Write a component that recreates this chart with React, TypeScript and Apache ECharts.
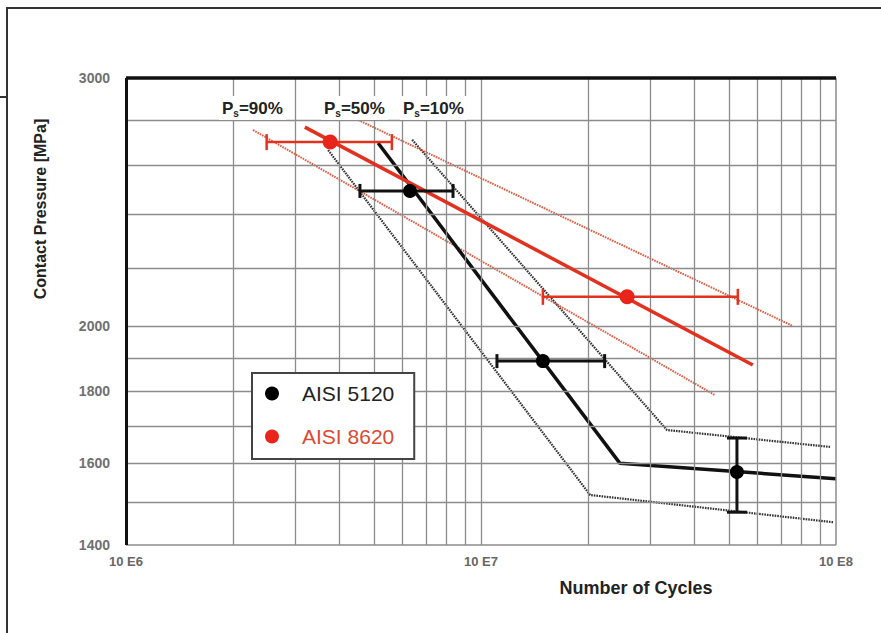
import React, { useEffect, useRef } from 'react';
import * as echarts from 'echarts';

// ---- Data ----
const xTickValues = [1e6, 1e7, 1e8];
const yTickValues = [1400, 1600, 1800, 2000, 3000];
const xGridValues = [2e6, 3e6, 4e6, 5e6, 6e6, 7e6, 8e6, 9e6, 1e7, 2e7, 3e7, 4e7, 5e7, 6e7, 7e7, 8e7, 9e7];
const yGridValues = [1500, 1600, 1700, 1800, 1900, 2000, 2200, 2400, 2600, 2800];

// AISI 5120 (black)
const aisi5120Mean = [[5.13e6, 2698], [2.46e7, 1600], [1e8, 1560]];
const aisi5120P10 = [[6.4e6, 2712], [3.34e7, 1689], [9.62e7, 1643]];
const aisi5120P90 = [[3.71e6, 2667], [2.03e7, 1519], [9.82e7, 1453]];
const aisi5120Points = [[6.31e6, 2495], [1.494e7, 1890], [5.26e7, 1577]];
const aisi5120CycleRange = [[6.31e6, 2495, 4.56e6, 8.34e6], [1.494e7, 1890, 1.109e7, 2.23e7]];
const aisi5120PressureRange = [[5.26e7, 1577, 1477, 1667]];

// AISI 8620 (red)
const aisi8620Mean = [[3.19e6, 2769], [5.83e7, 1878]];
const aisi8620P10 = [[4.51e6, 2801], [7.57e7, 2001]];
const aisi8620P90 = [[2.28e6, 2756], [4.56e7, 1788]];
const aisi8620Points = [[3.76e6, 2702], [2.58e7, 2099]];
const aisi8620CycleRange = [[3.76e6, 2702, 2.49e6, 5.61e6], [2.58e7, 2099, 1.494e7, 5.29e7]];

const FONT = "'Liberation Sans', Arial, sans-serif";
const BLACK = '#111111';
const RED = '#e2321f';
const RED_LIGHT = '#e25a40';

function hErrRender(color: string, width: number, cap: number) {
  return (params: any, api: any) => {
    const y = api.value(1);
    const l = api.coord([api.value(2), y]);
    const h = api.coord([api.value(3), y]);
    const style = { stroke: color, lineWidth: width, fill: 'none' };
    return {
      type: 'group',
      children: [
        { type: 'line', shape: { x1: l[0], y1: l[1], x2: h[0], y2: h[1] }, style },
        { type: 'line', shape: { x1: l[0], y1: l[1] - cap, x2: l[0], y2: l[1] + cap }, style },
        { type: 'line', shape: { x1: h[0], y1: h[1] - cap, x2: h[0], y2: h[1] + cap }, style },
      ],
    };
  };
}

function vErrRender(color: string, width: number, cap: number) {
  return (params: any, api: any) => {
    const x = api.value(0);
    const lo = api.coord([x, api.value(2)]);
    const hi = api.coord([x, api.value(3)]);
    const style = { stroke: color, lineWidth: width, fill: 'none' };
    return {
      type: 'group',
      children: [
        { type: 'line', shape: { x1: lo[0], y1: lo[1], x2: hi[0], y2: hi[1] }, style },
        { type: 'line', shape: { x1: lo[0] - cap, y1: lo[1], x2: lo[0] + cap, y2: lo[1] }, style },
        { type: 'line', shape: { x1: hi[0] - cap, y1: hi[1], x2: hi[0] + cap, y2: hi[1] }, style },
      ],
    };
  };
}

function psLabel(x: number, pct: string) {
  return {
    type: 'text',
    x,
    y: 108,
    z: 50,
    style: {
      text: `{p|P}{s|s}{p|=${pct}}`,
      verticalAlign: 'middle',
      backgroundColor: '#ffffff',
      padding: [2, 3, 2, 3],
      rich: {
        p: { fontSize: 17, fontWeight: 'bold', fontFamily: FONT, fill: '#222' },
        s: { fontSize: 10, fontWeight: 'bold', fontFamily: FONT, fill: '#222', padding: [10, 0, 0, 0] },
      },
    },
  };
}

export default function App() {
  const ref = useRef<HTMLDivElement>(null);
  useEffect(() => {
    if (!ref.current) return;
    const chart = echarts.init(ref.current, undefined, { renderer: 'svg' });
    const gridStyle = { color: '#8c8c8c', width: 1.3, type: 'solid' };
    const markData: any[] = [
      ...xGridValues.map((v) => ({ xAxis: v })),
      ...yGridValues.map((v) => ({ yAxis: v })),
      { xAxis: 1e8, lineStyle: { color: '#8c8c8c', width: 1.5 } },
      { yAxis: 1400, lineStyle: { color: '#8c8c8c', width: 1.5 } },
      { xAxis: 1e6, lineStyle: { color: '#111', width: 3 } },
      { yAxis: 3000, lineStyle: { color: '#111', width: 3.5 } },
    ];
    const dashBlack = { color: '#333333', width: 2.2, type: [1.6, 1] };
    const dashRed = { color: RED_LIGHT, width: 2, type: [1.6, 1] };
    chart.setOption({
      animation: false,
      backgroundColor: '#ffffff',
      grid: { left: 126, right: 45, top: 78, bottom: 88 },
      xAxis: {
        type: 'log',
        logBase: 10,
        min: 1e6,
        max: 1e8,
        axisLine: { show: false },
        axisTick: { show: false },
        splitLine: { show: false },
        minorSplitLine: { show: false },
        axisLabel: {
          customValues: xTickValues,
          margin: 10,
          fontSize: 13,
          fontFamily: FONT,
          fontWeight: 'bold',
          color: '#666',
          formatter: (v: number) => '10 E' + Math.round(Math.log10(v)),
        },
      },
      yAxis: {
        type: 'log',
        logBase: 10,
        min: 1400,
        max: 3000,
        axisLine: { show: false },
        axisTick: { show: false },
        splitLine: { show: false },
        axisLabel: {
          customValues: yTickValues,
          margin: 16,
          fontSize: 14,
          fontFamily: FONT,
          fontWeight: 'bold',
          color: '#707070',
          formatter: (v: number) => String(Math.round(v)),
        },
      },
      legend: {
        orient: 'vertical',
        left: 252,
        top: 373,
        padding: [10, 20, 12, 13],
        itemGap: 22,
        itemWidth: 14,
        itemHeight: 14,
        icon: 'circle',
        backgroundColor: '#ffffff',
        borderColor: '#444',
        borderWidth: 2,
        borderRadius: 0,
        z: 40,
        data: [
          { name: 'AISI 5120', textStyle: { color: '#222' } },
          { name: 'AISI 8620', textStyle: { color: '#d94a32' } },
        ],
        textStyle: { fontSize: 21, fontFamily: FONT, padding: [0, 0, 0, 18] },
      },
      graphic: [
        { type: 'rect', shape: { x: 7, y: 8, width: 900, height: 700 }, style: { fill: 'none', stroke: '#333', lineWidth: 2 }, silent: true },
        { type: 'line', shape: { x1: 0, y1: 97, x2: 7, y2: 97 }, style: { stroke: '#333', lineWidth: 2 } },
        {
          type: 'text',
          x: 40,
          y: 209,
          rotation: Math.PI / 2,
          style: { text: 'Contact Pressure [MPa]', fontSize: 16, fontWeight: 'bold', fontFamily: FONT, fill: '#222', align: 'center', verticalAlign: 'middle' },
        },
        {
          type: 'text',
          x: 636,
          y: 588,
          style: { text: 'Number of Cycles', fontSize: 18, fontWeight: 'bold', fontFamily: FONT, fill: '#222', align: 'center', verticalAlign: 'middle' },
        },
        psLabel(219, '90%'),
        psLabel(321, '50%'),
        psLabel(400, '10%'),
      ],
      series: [
        {
          type: 'line',
          name: 'grid',
          data: [[1e6, 1400]],
          symbol: 'none',
          lineStyle: { width: 0 },
          silent: true,
          z: 1,
          markLine: { symbol: ['none', 'none'], silent: true, label: { show: false }, lineStyle: gridStyle, data: markData, animation: false },
        },
        { type: 'line', name: 'p90-5120', data: aisi5120P90, symbol: 'none', lineStyle: dashBlack, z: 3 },
        { type: 'line', name: 'p10-5120', data: aisi5120P10, symbol: 'none', lineStyle: dashBlack, z: 3 },
        { type: 'line', name: 'p90-8620', data: aisi8620P90, symbol: 'none', lineStyle: dashRed, z: 3 },
        { type: 'line', name: 'p10-8620', data: aisi8620P10, symbol: 'none', lineStyle: dashRed, z: 3 },
        { type: 'line', name: 'mean-5120', data: aisi5120Mean, symbol: 'none', lineStyle: { color: BLACK, width: 3.5 }, z: 4 },
        { type: 'line', name: 'mean-8620', data: aisi8620Mean, symbol: 'none', lineStyle: { color: RED, width: 3.5 }, z: 5 },
        { type: 'custom', name: 'err-5120', data: aisi5120CycleRange, encode: { x: [0, 2, 3], y: 1 }, renderItem: hErrRender(BLACK, 3, 7), z: 6 },
        { type: 'custom', name: 'errv-5120', data: aisi5120PressureRange, encode: { x: 0, y: [1, 2, 3] }, renderItem: vErrRender(BLACK, 3, 10), z: 6 },
        { type: 'custom', name: 'err-8620', data: aisi8620CycleRange, encode: { x: [0, 2, 3], y: 1 }, renderItem: hErrRender(RED, 2.5, 8), z: 6 },
        { type: 'scatter', name: 'AISI 5120', data: aisi5120Points, symbolSize: 14, itemStyle: { color: '#000', opacity: 1 }, z: 8 },
        { type: 'scatter', name: 'AISI 8620', data: aisi8620Points, symbolSize: 15, itemStyle: { color: '#e8241b', opacity: 1 }, z: 8 },
      ],
    });
    return () => chart.dispose();
  }, []);
  return <div ref={ref} style={{ position: 'absolute', left: 0, top: 0, width: 881, height: 633 }} />;
}
